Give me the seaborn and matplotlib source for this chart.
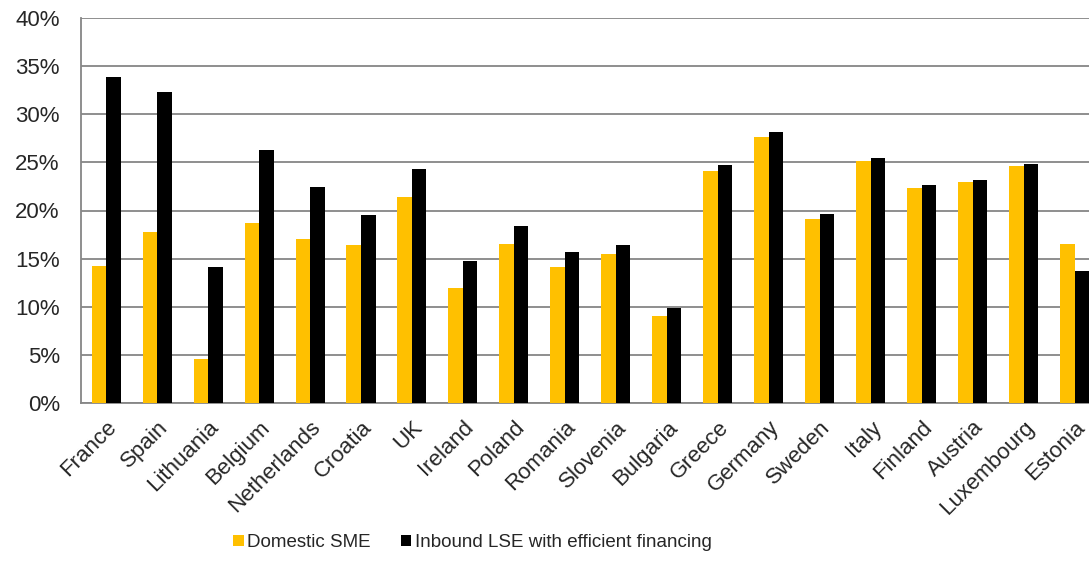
import numpy as np
import pandas as pd
import matplotlib
matplotlib.use("Agg")
import matplotlib.pyplot as plt
from matplotlib.ticker import PercentFormatter, FixedLocator
import seaborn as sns

countries = ["France", "Spain", "Lithuania", "Belgium", "Netherlands", "Croatia", "UK",
             "Ireland", "Poland", "Romania", "Slovenia", "Bulgaria", "Greece", "Germany",
             "Sweden", "Italy", "Finland", "Austria", "Luxembourg", "Estonia"]
domestic_sme = [14.2, 17.8, 4.6, 18.7, 17.0, 16.45, 21.4, 11.9, 16.5, 14.1,
                15.45, 9.0, 24.1, 27.6, 19.15, 25.1, 22.3, 23.0, 24.6, 16.5]
inbound_lse = [33.9, 32.3, 14.1, 26.3, 22.4, 19.5, 24.3, 14.8, 18.4, 15.7,
               16.45, 9.9, 24.7, 28.2, 19.6, 25.5, 22.7, 23.2, 24.8, 13.75]
series = ["Domestic SME", "Inbound LSE with efficient financing"]
colors = ["#FFC000", "#000000"]

df = pd.DataFrame({
    "country": countries * 2,
    "value": domestic_sme + inbound_lse,
    "series": [series[0]] * len(countries) + [series[1]] * len(countries),
})

sns.set_style("white")
plt.rcParams["font.family"] = ["Liberation Sans", "DejaVu Sans"]

fig = plt.figure(figsize=(10.89, 5.82), dpi=100)
ax = fig.add_axes([80.7 / 1089, 179 / 582, (1100 - 80.7) / 1089, 385 / 582])

sns.barplot(data=df, x="country", y="value", hue="series", palette=colors,
            width=0.57, gap=0, linewidth=0, saturation=1, ax=ax, zorder=3)

grid_col = "#868686"
ax.set_ylim(0, 40)
ax.set_xlim(-0.5, len(countries) - 0.5)
ax.set_yticks(np.arange(0, 41, 5))
ax.yaxis.set_major_formatter(PercentFormatter(decimals=0))
ax.yaxis.grid(True, color=grid_col, lw=1.3, zorder=0)
ax.set_axisbelow(True)
for s in ["top", "right"]:
    ax.spines[s].set_visible(False)
for s in ["left", "bottom"]:
    ax.spines[s].set_color(grid_col)
    ax.spines[s].set_linewidth(1.3)

ax.xaxis.set_minor_locator(FixedLocator(np.arange(-0.5, len(countries), 1.0)))
ax.tick_params(axis="x", which="major", length=0, pad=10, labelsize=16)
ax.tick_params(axis="x", which="minor", length=6, width=1.3, color=grid_col, direction="out")
ax.tick_params(axis="y", length=6, width=1.3, color=grid_col, direction="out", pad=9, labelsize=16)
plt.setp(ax.get_xticklabels(), rotation=45, ha="right", rotation_mode="anchor")
ax.set_xlabel("")
ax.set_ylabel("")

handles, labels = ax.get_legend_handles_labels()
ax.get_legend().remove()
fig.legend(handles, labels, loc="center", bbox_to_anchor=(0.434, 0.068), ncol=2,
           frameon=False, fontsize=13.5, handlelength=0.55, handleheight=0.55,
           handletextpad=0.2, columnspacing=1.6)

fig.savefig("out.png", dpi=100)
